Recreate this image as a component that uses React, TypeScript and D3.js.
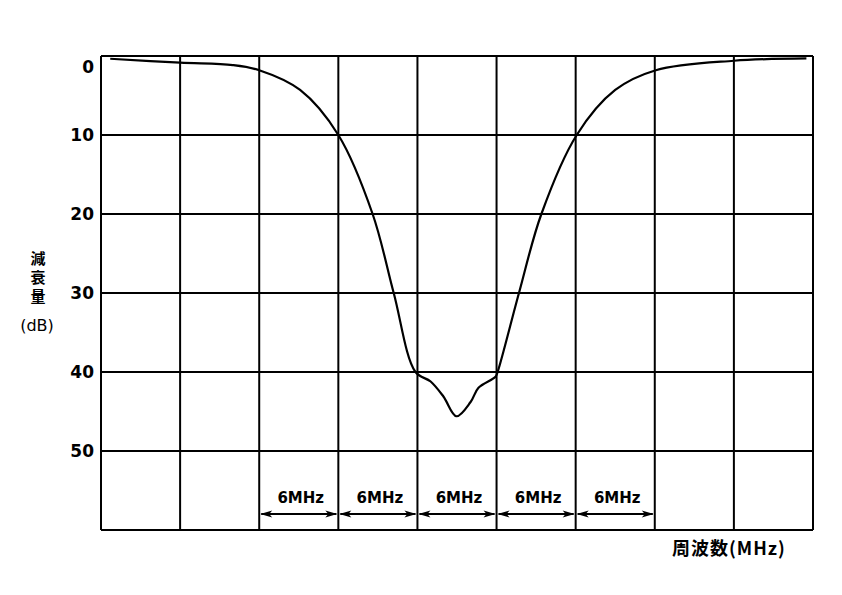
import React from "react";
import * as d3 from "d3";

const yTicks = [0, 10, 20, 30, 40, 50];
const xGrid = [0, 6, 12, 18, 24, 30, 36, 42, 48, 54];
const spanStarts = [12, 18, 24, 30, 36];
const spanLabel = "6MHz";
const freq = [0.7, 6, 10, 12, 15.1, 18, 20.6, 22.2, 23.85, 25.0, 25.97, 26.96, 28.03, 28.63, 29.92, 30.08, 31.7, 33.4, 36.08, 39.0, 42.08, 48.0, 53.5];
const atten = [0.35, 0.85, 1.15, 1.8, 4.3, 10, 20, 30, 40, 41.2, 43.1, 45.6, 43.8, 42.0, 40.6, 40, 30, 20, 10, 4.3, 1.8, 0.6, 0.3];
const yTitleChars = ["減", "衰", "量"];

const W = 842, H = 595;
const L = 101, R = 813, T = 56, B = 530;

export default function App() {
  const x = d3.scaleLinear().domain([0, 54]).range([L, R]);
  const y = d3.scaleLinear().domain([0, 60]).range([T, B]);
  const pts: [number, number][] = freq.map((f, i) => [x(f), y(atten[i])]);
  const line = d3.line().curve(d3.curveCatmullRom.alpha(0.5))(pts) || "";
  const font = "'DejaVu Sans', sans-serif";
  const arrowY = 514;
  const ah = (x0: number, dir: number) =>
    `M${x0},${arrowY} L${x0 + dir * 12},${arrowY - 3.5} L${x0 + dir * 9},${arrowY} L${x0 + dir * 12},${arrowY + 3.5} Z`;
  return (
    <svg width={W} height={H} style={{ position: "absolute", left: 0, top: 0, background: "#fff" }}>
      <rect x={0} y={0} width={W} height={H} fill="#fff" />
      {xGrid.map((g) => (
        <line key={"v" + g} x1={x(g)} x2={x(g)} y1={T} y2={B} stroke="#000" strokeWidth={2} />
      ))}
      {[...yTicks, 60].map((t) => (
        <line key={"h" + t} x1={L} x2={R} y1={y(t)} y2={y(t)} stroke="#000" strokeWidth={2} />
      ))}
      {yTicks.map((t) => (
        <text key={"t" + t} x={94} y={y(t) + (t === 0 ? 17 : 6)} textAnchor="end" fontFamily={font} fontWeight="bold" fontSize={17} fill="#000">
          {t}
        </text>
      ))}
      <path d={line} fill="none" stroke="#000" strokeWidth={2.2} strokeLinejoin="round" />
      {spanStarts.map((s) => (
        <g key={"s" + s}>
          <line x1={x(s) + 2} x2={x(s + 6) - 2} y1={arrowY} y2={arrowY} stroke="#000" strokeWidth={1.8} />
          <path d={ah(x(s) + 1, 1)} fill="#000" />
          <path d={ah(x(s + 6) - 1, -1)} fill="#000" />
          <text x={x(s + 3) + 2} y={arrowY - 11} textAnchor="middle" fontFamily={font} fontWeight="bold" fontSize={15} fill="#000">
            {spanLabel}
          </text>
        </g>
      ))}
      <g fontFamily="'Noto Sans CJK JP', sans-serif" fontWeight="bold" fontSize={15} fill="#000">
        {yTitleChars.map((c, i) => (
          <text key={c} x={38} y={264 + i * 19} textAnchor="middle">{c}</text>
        ))}
        <text x={37} y={331} textAnchor="middle" fontFamily={font} fontWeight="normal" fontSize={16}>(dB)</text>
        <text x={672} y={555} textAnchor="start" fontSize={18} letterSpacing={1}>周波数(MHz)</text>
      </g>
    </svg>
  );
}
